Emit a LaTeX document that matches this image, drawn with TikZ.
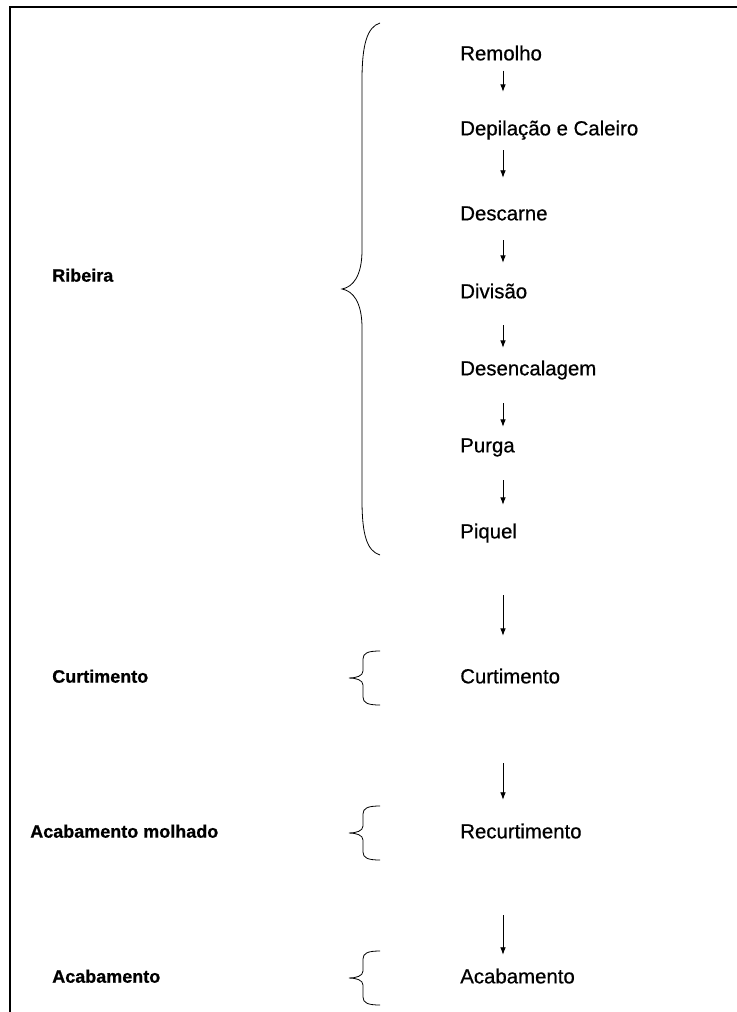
\documentclass[tikz,border=0pt]{standalone}
\usepackage{fontspec}
\setmainfont{Liberation Sans}
\newfontfamily\etapafont[FakeBold=0.6]{Liberation Sans}
\newfontfamily\fasefont[FakeBold=0.8]{Liberation Sans Bold}
\usetikzlibrary{arrows.meta,positioning,calc}

\begin{document}
\begin{tikzpicture}[x=0.75pt,y=-0.75pt,>=Latex,
  etapa/.style={anchor=west,inner sep=0pt,text height=11pt,text depth=3pt,
    font=\etapafont\fontsize{15.3}{18}\selectfont},
  fase/.style={anchor=west,inner sep=0pt,text height=10pt,text depth=3pt,
    font=\fasefont\fontsize{13.5}{16}\selectfont},
  seta/.style={->,line width=0.6pt}]
  \useasboundingbox (0,0) rectangle (737,1012);
  \draw[line width=1.5pt] (10,1012) -- (10,7) -- (737,7);
  % etapas do processo
  \node[etapa] (remolho) at (460,55) {Remolho};
  \node[etapa] (depilacao) at (460,130) {Depilação e Caleiro};
  \node[etapa] (descarne) at (460,215) {Descarne};
  \node[etapa] (divisao) at (460,293) {Divisão};
  \node[etapa] (desencal) at (460,370) {Desencalagem};
  \node[etapa] (purga) at (460,447) {Purga};
  \node[etapa] (piquel) at (460,533) {Piquel};
  \node[etapa] (curt) at (460,678) {Curtimento};
  \node[etapa] (recurt) at (460,833) {Recurtimento};
  \node[etapa] (acab) at (460,978) {Acabamento};
  % fases
  \node[fase] (ribeira) at (52,277) {Ribeira};
  \node[fase] (lcurt) at (52,678) {Curtimento};
  \node[fase] (lacabm) at (30,833) {Acabamento molhado};
  \node[fase] (lacab) at (52,978) {Acabamento};
  \coordinate (eixo) at (503,0);
  \foreach \a/\b/\s/\e in {remolho/depilacao/4.5/21.5,depilacao/descarne/8/20.8,
      descarne/divisao/11.8/15.5,divisao/desencal/17/9.5,desencal/purga/17.8/8,
      purga/piquel/17.8/14,piquel/curt/39.5/24.5,curt/recurt/56.8/17.8,
      recurt/acab/54.5/10.3}{
    \draw[seta,-{Latex[length=5.5pt,width=4.2pt]},
      shorten <=\s pt,shorten >=\e pt] (\a.south -| eixo) -- (\b.north -| eixo);
  }
  % chaves
  \draw[line width=0.6pt] (380,23) .. controls (367,27) and (362,45) .. (362,80)
    -- (362,250) .. controls (362,276) and (353,287) .. (342,289)
    .. controls (353,291) and (362,302) .. (362,328) -- (362,500)
    .. controls (362,535) and (367,551) .. (380,555);
  \foreach \y in {678,833,978}{
    \draw[line width=0.6pt] (380,\y-27) .. controls (368,\y-27) and (363,\y-25) .. (363,\y-19)
      -- (363,\y-7) .. controls (363,\y-2) and (356,\y) .. (349,\y)
      .. controls (356,\y) and (363,\y+2) .. (363,\y+7) -- (363,\y+19)
      .. controls (363,\y+25) and (368,\y+27) .. (380,\y+27);
  }
\end{tikzpicture}
\end{document}
